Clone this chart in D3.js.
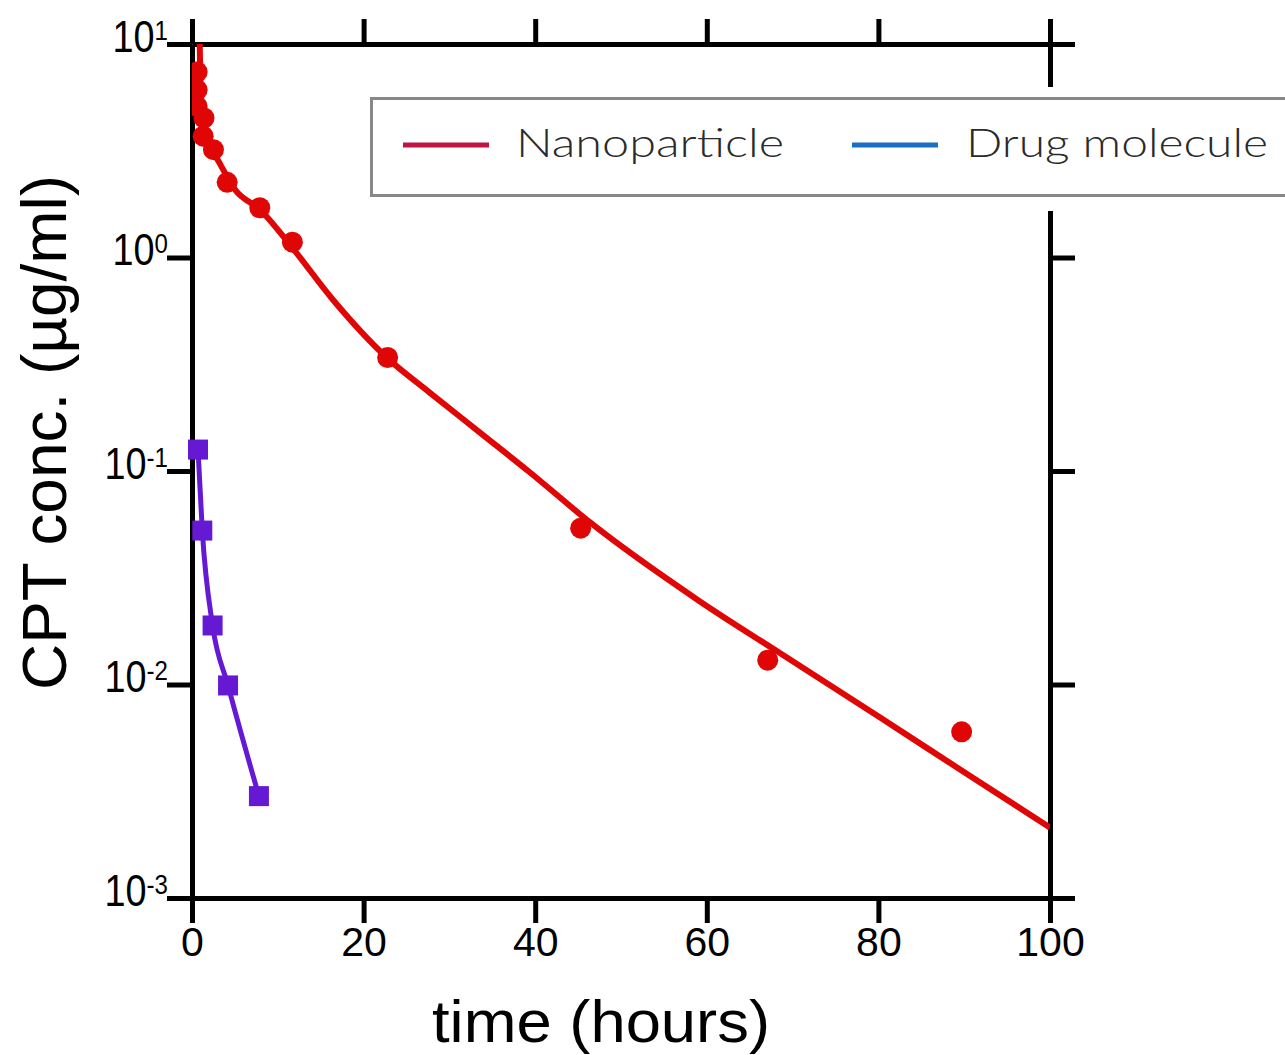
<!DOCTYPE html>
<html>
<head>
<meta charset="utf-8">
<script src="https://cdn.jsdelivr.net/npm/d3@7"></script>
<style>
  body { margin: 0; background: #fff; }
  svg { display: block; }
</style>
</head>
<body>
<div class="chart"></div>
<script>
// nanoparticle measurements (hours, ug/ml)
const npTime = [0.6, 0.6, 0.6, 1.4, 1.3, 2.5, 4.1, 7.9, 11.7, 22.8, 45.3, 67.1, 89.7];
const npConc = [7.4, 6.1, 5.1, 4.5, 3.7, 3.2, 2.25, 1.71, 1.18, 0.34, 0.054, 0.013, 0.006];

// fitted nanoparticle curve
const fitTime = [0.9, 1.05, 1.4, 2.1, 3.3, 5.0, 7.9, 11.4, 16.4, 22.7, 27.7, 33.6, 39.4, 46.4, 59.2, 68.2, 80.2, 91.5, 100];
const fitConc = [10, 5.5, 4.2, 3.38, 2.73, 2.08, 1.68, 1.15, 0.636, 0.34, 0.233, 0.151, 0.0984, 0.0574, 0.0245, 0.0143, 0.007, 0.00355, 0.00214];

// free drug molecule
const drugTime = [0.7, 1.2, 2.4, 4.2, 7.8];
const drugConc = [0.126, 0.0526, 0.0189, 0.0099, 0.003];

const xTicks = [0, 20, 40, 60, 80, 100];
const yTicks = [1e-3, 1e-2, 1e-1, 1, 10];
const yExps = ['-3', '-2', '-1', '0', '1'];
const legendNames = ['Nanoparticle', 'Drug molecule'];

let width = 1285;
let height = 1055;

let svg = d3.select('.chart')
  .append('svg')
  .attr('width', width)
  .attr('height', height);

let xScale = d3.scaleLinear().domain([0, 100]).range([192, 1050]);
let yScale = d3.scaleLog().domain([1e-3, 10]).range([898, 44]);

svg.append('defs').append('clipPath').attr('id', 'plot')
  .append('rect')
  .attr('x', 192).attr('y', 44)
  .attr('width', 858).attr('height', 854);

// axes
function styleAxis(g) {
  g.select('.domain').attr('stroke', '#000').attr('stroke-width', 5);
  g.selectAll('.tick line').attr('stroke', '#000').attr('stroke-width', 5);
  g.selectAll('.tick text')
    .attr('font-family', 'Liberation Sans, Arial, sans-serif')
    .attr('font-size', 41)
    .attr('fill', '#000');
}

svg.append('g')
  .attr('transform', 'translate(0,898)')
  .call(d3.axisBottom(xScale).tickValues(xTicks).tickSize(25).tickSizeOuter(0).tickPadding(2))
  .call(styleAxis)
  .call(g => g.selectAll('.tick text').attr('dy', '0.75em'));

svg.append('g')
  .attr('transform', 'translate(0,44)')
  .call(d3.axisTop(xScale).tickValues(xTicks).tickSize(25).tickSizeOuter(0).tickFormat(''))
  .call(styleAxis);

svg.append('g')
  .attr('transform', 'translate(1050,0)')
  .call(d3.axisRight(yScale).tickValues(yTicks).tickSize(25).tickSizeOuter(0).tickFormat(''))
  .call(styleAxis);

let left = svg.append('g')
  .attr('transform', 'translate(192,0)')
  .call(d3.axisLeft(yScale).tickValues(yTicks).tickSize(25).tickSizeOuter(0).tickFormat(''))
  .call(styleAxis);

// 10^n labels, a little condensed like the original
let sx = 0.86;
left.selectAll('.tick').each(function(d, i) {
  let t = d3.select(this).append('text')
    .attr('transform', 'scale(' + sx + ',1)')
    .attr('x', -24 / sx)
    .attr('y', 7)
    .attr('text-anchor', 'end')
    .attr('font-family', 'Liberation Sans, Arial, sans-serif')
    .attr('fill', '#000');
  t.append('tspan').attr('font-size', 44).text('10');
  t.append('tspan').attr('font-size', 28).attr('dy', -12).text(yExps[i]);
});

// axis titles
svg.append('text')
  .attr('x', 432)
  .attr('y', 1042)
  .attr('font-family', 'Liberation Sans, Arial, sans-serif')
  .attr('font-size', 60)
  .attr('textLength', 338)
  .attr('lengthAdjust', 'spacingAndGlyphs')
  .text('time (hours)');

svg.append('text')
  .attr('transform', 'translate(66,690) rotate(-90)')
  .attr('font-family', 'Liberation Sans, Arial, sans-serif')
  .attr('font-size', 63)
  .attr('textLength', 515)
  .attr('lengthAdjust', 'spacingAndGlyphs')
  .text('CPT conc. (µg/ml)');

// data
let plot = svg.append('g').attr('clip-path', 'url(#plot)');

let fitData = fitTime.map((t, i) => ({ t: t, c: fitConc[i] }));
let npData = npTime.map((t, i) => ({ t: t, c: npConc[i] }));
let drugData = drugTime.map((t, i) => ({ t: t, c: drugConc[i] }));

let line = d3.line()
  .x(d => xScale(d.t))
  .y(d => yScale(d.c))
  .curve(d3.curveMonotoneX);

plot.append('path')
  .datum(fitData)
  .attr('d', line)
  .attr('fill', 'none')
  .attr('stroke', '#e00606')
  .attr('stroke-width', 6);

plot.selectAll('.np')
  .data(npData)
  .enter().append('circle')
  .attr('class', 'np')
  .attr('cx', d => xScale(d.t))
  .attr('cy', d => yScale(d.c))
  .attr('r', 10.5)
  .attr('fill', '#e00606');

plot.append('path')
  .datum(drugData)
  .attr('d', line)
  .attr('fill', 'none')
  .attr('stroke', '#6619d2')
  .attr('stroke-width', 5);

svg.selectAll('.drug')
  .data(drugData)
  .enter().append('rect')
  .attr('class', 'drug')
  .attr('x', d => xScale(d.t) - 10)
  .attr('y', d => yScale(d.c) - 10)
  .attr('width', 20)
  .attr('height', 20)
  .attr('fill', '#6619d2');

// legend (pasted-in box)
let legend = svg.append('g');
legend.append('rect')
  .attr('x', 362).attr('y', 87)
  .attr('width', 930).attr('height', 124)
  .attr('fill', '#fff');
legend.append('rect')
  .attr('x', 371.5).attr('y', 98.5)
  .attr('width', 930).attr('height', 97)
  .attr('fill', '#fff')
  .attr('stroke', '#888')
  .attr('stroke-width', 3);

let legendColors = ['#c01442', '#1a6fc2'];
let legendLineX = [403, 852];
let legendTextX = [516, 966];
let legendTextW = [268, 302];

legendNames.forEach(function(name, i) {
  legend.append('line')
    .attr('x1', legendLineX[i]).attr('x2', legendLineX[i] + 86)
    .attr('y1', 145).attr('y2', 145)
    .attr('stroke', legendColors[i])
    .attr('stroke-width', 5);
  legend.append('text')
    .attr('x', legendTextX[i])
    .attr('y', 157)
    .attr('font-family', 'Lato, sans-serif')
    .attr('font-weight', 300)
    .attr('font-size', 40)
    .attr('fill', '#2a2a2a')
    .attr('textLength', legendTextW[i])
    .attr('lengthAdjust', 'spacingAndGlyphs')
    .text(name);
});
</script>
</body>
</html>
